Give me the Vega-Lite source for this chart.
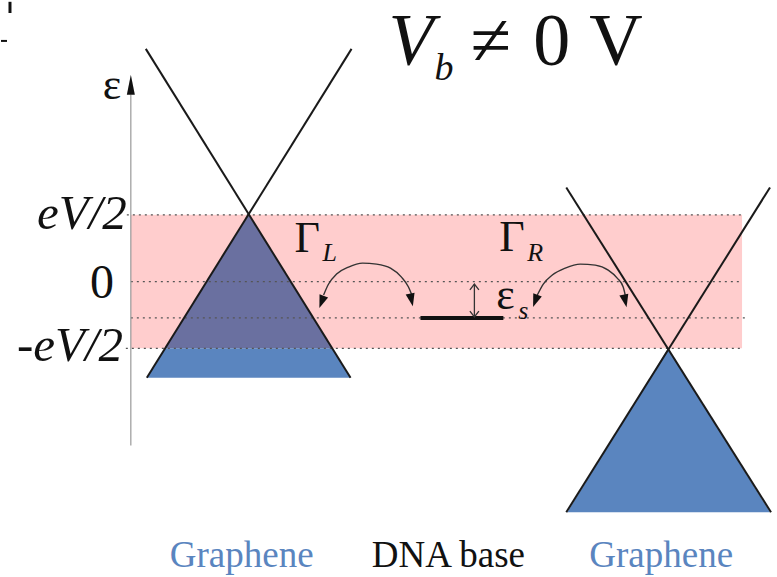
{
  "$schema": "https://vega.github.io/schema/vega-lite/v6.json",
  "width": 777,
  "height": 577,
  "padding": 0,
  "autosize": {"type": "fit", "contains": "padding"},
  "background": "white",
  "config": {"view": {"stroke": null}},
  "encoding": {
    "x": {"field": "x", "type": "quantitative", "scale": {"domain": [0, 777], "nice": false, "zero": false}, "axis": null},
    "y": {"field": "y", "type": "quantitative", "scale": {"domain": [-4.425, 4.187], "nice": false, "zero": false}, "axis": null}
  },
  "layer": [
    {
      "data": {"values": [{"x": 130, "x2": 742, "y": -1, "y2": 1}]},
      "mark": {"type": "rect", "color": "#ffcdcd"},
      "encoding": {"x2": {"field": "x2"}, "y2": {"field": "y2"}}
    },
    {
      "data": {"values": [
        {"x": 164.3, "y": -1, "y2": -1},
        {"x": 248, "y": 1, "y2": -1},
        {"x": 331.7, "y": -1, "y2": -1}
      ]},
      "mark": {"type": "area", "color": "#6a70a0", "opacity": 1},
      "encoding": {"y2": {"field": "y2"}}
    },
    {
      "data": {"values": [
        {"x": 146, "y": -1.44, "y2": -1.44},
        {"x": 164.3, "y": -1, "y2": -1.44},
        {"x": 331.7, "y": -1, "y2": -1.44},
        {"x": 350, "y": -1.44, "y2": -1.44}
      ]},
      "mark": {"type": "area", "color": "#5a85bf", "opacity": 1},
      "encoding": {"y2": {"field": "y2"}}
    },
    {
      "data": {"values": [
        {"x": 567, "y": -3.455, "y2": -3.455},
        {"x": 668, "y": -1, "y2": -3.455},
        {"x": 770, "y": -3.455, "y2": -3.455}
      ]},
      "mark": {"type": "area", "color": "#5a85bf", "opacity": 1},
      "encoding": {"y2": {"field": "y2"}}
    },
    {
      "data": {"values": [
        {"x": 126, "x2": 742, "y": 1},
        {"x": 130, "x2": 742, "y": 0},
        {"x": 130, "x2": 746, "y": -0.545},
        {"x": 125, "x2": 742, "y": -1}
      ]},
      "mark": {"type": "rule", "color": "#555555", "strokeWidth": 1.2, "strokeDash": [2, 4]},
      "encoding": {"x2": {"field": "x2"}}
    },
    {
      "data": {"values": [
        {"x": 145, "y": 3.485, "x2": 350, "y2": -1.44},
        {"x": 351, "y": 3.485, "x2": 146, "y2": -1.44},
        {"x": 566, "y": 1.41, "x2": 771, "y2": -3.455},
        {"x": 770, "y": 1.41, "x2": 566, "y2": -3.455}
      ]},
      "mark": {"type": "rule", "color": "#1a1a1a", "strokeWidth": 2},
      "encoding": {"x2": {"field": "x2"}, "y2": {"field": "y2"}}
    },
    {
      "data": {"values": [{"x": 130, "y": 2.8, "y2": -2.455}]},
      "mark": {"type": "rule", "color": "#999999", "strokeWidth": 1.2},
      "encoding": {"y2": {"field": "y2"}}
    },
    {
      "data": {"values": [{"x": 130, "y": 2.948}]},
      "mark": {"type": "point", "shape": "M0,-1L0.4,1L-0.4,1Z", "filled": true, "color": "#111111", "size": 400, "opacity": 1}
    },
    {
      "data": {"values": [
        {"arc": "L", "x": 323, "y": -0.201},
        {"arc": "L", "x": 328, "y": -0.037},
        {"arc": "L", "x": 336, "y": 0.112},
        {"arc": "L", "x": 348, "y": 0.216},
        {"arc": "L", "x": 362, "y": 0.276},
        {"arc": "L", "x": 376, "y": 0.261},
        {"arc": "L", "x": 390, "y": 0.201},
        {"arc": "L", "x": 401, "y": 0.067},
        {"arc": "L", "x": 408, "y": -0.082},
        {"arc": "L", "x": 411, "y": -0.187},
        {"arc": "R", "x": 537, "y": -0.201},
        {"arc": "R", "x": 543, "y": -0.037},
        {"arc": "R", "x": 552, "y": 0.097},
        {"arc": "R", "x": 565, "y": 0.201},
        {"arc": "R", "x": 580, "y": 0.261},
        {"arc": "R", "x": 595, "y": 0.246},
        {"arc": "R", "x": 608, "y": 0.172},
        {"arc": "R", "x": 617, "y": 0.052},
        {"arc": "R", "x": 623, "y": -0.082},
        {"arc": "R", "x": 625, "y": -0.201}
      ]},
      "mark": {"type": "line", "color": "#333333", "strokeWidth": 1.4, "interpolate": "monotone"},
      "encoding": {"detail": {"field": "arc"}}
    },
    {
      "data": {"values": [{"x": 321, "y": -0.306}, {"x": 535, "y": -0.291}]},
      "mark": {"type": "point", "shape": "M0,1L-0.7,-1L0.7,-1Z", "filled": true, "color": "#111111", "size": 169, "opacity": 1, "angle": 20}
    },
    {
      "data": {"values": [{"x": 411, "y": -0.276}, {"x": 625, "y": -0.291}]},
      "mark": {"type": "point", "shape": "M0,1L-0.7,-1L0.7,-1Z", "filled": true, "color": "#111111", "size": 169, "opacity": 1, "angle": -12}
    },
    {
      "data": {"values": [{"x": 420, "x2": 503, "y": -0.545}]},
      "mark": {"type": "rule", "color": "#111111", "strokeWidth": 4},
      "encoding": {"x2": {"field": "x2"}}
    },
    {
      "data": {"values": [{"x": 474, "y": -0.037, "y2": -0.53}]},
      "mark": {"type": "rule", "color": "#333333", "strokeWidth": 1.3},
      "encoding": {"y2": {"field": "y2"}}
    },
    {
      "data": {"values": [{"x": 474, "y": -0.037}]},
      "mark": {"type": "point", "shape": "M-1,1.3L0,0L1,1.3", "filled": false, "color": "#333333", "strokeWidth": 1.3, "size": 81, "opacity": 1}
    },
    {
      "data": {"values": [{"x": 474, "y": -0.53}]},
      "mark": {"type": "point", "shape": "M-1,-1.3L0,0L1,-1.3", "filled": false, "color": "#333333", "strokeWidth": 1.3, "size": 81, "opacity": 1}
    },
    {
      "data": {"values": [{"x": 9, "y": 4.19, "y2": 4.022}]},
      "mark": {"type": "rule", "color": "#111111", "strokeWidth": 3},
      "encoding": {"y2": {"field": "y2"}}
    },
    {
      "data": {"values": [{"x": 0, "x2": 6, "y": 3.604}]},
      "mark": {"type": "rule", "color": "#111111", "strokeWidth": 2},
      "encoding": {"x2": {"field": "x2"}}
    },
    {
      "data": {"values": [{"x": 388, "y": 3.246, "t": "V"}]},
      "mark": {"type": "text", "font": "Liberation Serif", "fontSize": 74, "fontStyle": "italic", "align": "left", "baseline": "alphabetic", "color": "#111111"},
      "encoding": {"text": {"field": "t"}}
    },
    {
      "data": {"values": [{"x": 434, "y": 3.022, "t": "b"}]},
      "mark": {"type": "text", "font": "Liberation Serif", "fontSize": 38, "fontStyle": "italic", "align": "left", "baseline": "alphabetic", "color": "#111111"},
      "encoding": {"text": {"field": "t"}}
    },
    {
      "data": {"values": [
        {"x": 470, "y": 3.246, "t": "≠"},
        {"x": 533, "y": 3.246, "t": "0"},
        {"x": 589, "y": 3.246, "t": "V"}
      ]},
      "mark": {"type": "text", "font": "Liberation Serif", "fontSize": 74, "align": "left", "baseline": "alphabetic", "color": "#111111"},
      "encoding": {"text": {"field": "t"}}
    },
    {
      "data": {"values": [
        {"x": 36, "y": 0.784, "t": "eV/2"},
        {"x": 16, "y": -1.187, "t": "-eV/2"}
      ]},
      "mark": {"type": "text", "font": "Liberation Serif", "fontSize": 49, "fontStyle": "italic", "align": "left", "baseline": "alphabetic", "color": "#111111"},
      "encoding": {"text": {"field": "t"}}
    },
    {
      "data": {"values": [{"x": 89, "y": -0.246, "t": "0"}]},
      "mark": {"type": "text", "font": "Liberation Serif", "fontSize": 48, "align": "left", "baseline": "alphabetic", "color": "#111111"},
      "encoding": {"text": {"field": "t"}}
    },
    {
      "data": {"values": [
        {"x": 102, "y": 2.739, "t": "ε"},
        {"x": 496, "y": -0.41, "t": "ε"}
      ]},
      "mark": {"type": "text", "font": "Liberation Serif", "fontSize": 44, "align": "left", "baseline": "alphabetic", "color": "#111111"},
      "encoding": {"text": {"field": "t"}}
    },
    {
      "data": {"values": [
        {"x": 294, "y": 0.44, "t": "Γ"},
        {"x": 499, "y": 0.455, "t": "Γ"}
      ]},
      "mark": {"type": "text", "font": "Liberation Serif", "fontSize": 44, "align": "left", "baseline": "alphabetic", "color": "#111111"},
      "encoding": {"text": {"field": "t"}}
    },
    {
      "data": {"values": [
        {"x": 322, "y": 0.306, "t": "L"},
        {"x": 527, "y": 0.306, "t": "R"},
        {"x": 518, "y": -0.56, "t": "s"}
      ]},
      "mark": {"type": "text", "font": "Liberation Serif", "fontSize": 26, "fontStyle": "italic", "align": "left", "baseline": "alphabetic", "color": "#111111"},
      "encoding": {"text": {"field": "t"}}
    },
    {
      "data": {"values": [
        {"x": 241, "y": -4.276, "t": "Graphene"},
        {"x": 661, "y": -4.276, "t": "Graphene"}
      ]},
      "mark": {"type": "text", "font": "Liberation Serif", "fontSize": 37, "align": "center", "baseline": "alphabetic", "color": "#5a85bf"},
      "encoding": {"text": {"field": "t"}}
    },
    {
      "data": {"values": [{"x": 448, "y": -4.276, "t": "DNA base"}]},
      "mark": {"type": "text", "font": "Liberation Serif", "fontSize": 37, "align": "center", "baseline": "alphabetic", "color": "#111111"},
      "encoding": {"text": {"field": "t"}}
    }
  ]
}
